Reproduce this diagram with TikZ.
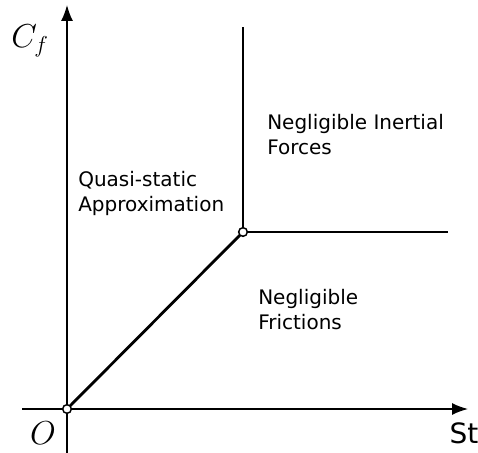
\documentclass[tikz,border=0pt]{standalone}
\usepackage{fontspec}
\newfontfamily\labelfont{DejaVu Sans}
\usetikzlibrary{arrows.meta}

\begin{document}
\begin{tikzpicture}[
    x=0.75pt, y=-0.75pt,
    axis/.style={line width=1.1pt, -{Latex[length=12pt, width=9pt]}},
    bound/.style={line width=2.1pt},
    joint/.style={circle, draw, line width=1.1pt, fill=white, inner sep=0pt, minimum size=6.5pt},
    region/.style={anchor=north west, inner sep=0pt, align=left, font=\labelfont\fontsize{15}{18.5}\selectfont},
    mathlbl/.style={inner sep=0pt, font=\fontsize{27}{30}\selectfont}
  ]
  \useasboundingbox (0,0) rectangle (478,453);

  % Points
  \coordinate (origin) at (67,409);
  \coordinate (knee) at (243,232);
  \coordinate (topend) at (243,27);
  \coordinate (rightend) at (448,232);
  \coordinate (xstart) at (22,409);
  \coordinate (xend) at (468,409);
  \coordinate (ystart) at (67,453);
  \coordinate (yend) at (67,5);

  % Axes
  \draw[axis] (xstart) -- (xend);
  \draw[axis] (ystart) -- (yend);

  % Boundaries
  \draw[bound] (origin) -- (knee);
  \draw[bound] (knee) -- (topend);
  \draw[bound] (knee) -- (rightend);

  \node[joint] (o) at (origin) {};
  \node[joint] (k) at (knee) {};

  % Axis labels
  \node[mathlbl] (cf) at (30,41) {$C_f$};
  \node[mathlbl] (olbl) at (43,433) {$O$};
  \node[inner sep=0pt, font=\labelfont\fontsize{21}{25}\selectfont] (st) at (464,433) {St};

  % Regions
  \node[region] (quasi) at (78,171) {Quasi-static\\Approximation};
  \node[region] (inert) at (267,114) {Negligible Inertial\\Forces};
  \node[region] (frict) at (258,289) {Negligible\\Frictions};
\end{tikzpicture}
\end{document}
